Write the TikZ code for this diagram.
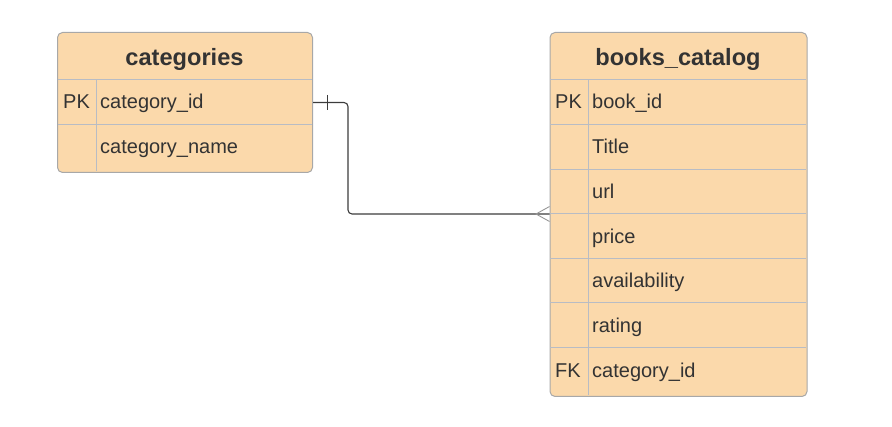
\documentclass[tikz,border=0pt]{standalone}
\usepackage{fontspec}
\setmainfont{Liberation Sans}
\definecolor{tfill}{RGB}{251,217,171}
\definecolor{tborder}{RGB}{168,168,168}
\definecolor{tline}{RGB}{184,188,196}
\definecolor{ttext}{RGB}{51,51,51}
\definecolor{conncol}{RGB}{60,60,60}
\definecolor{crowcol}{RGB}{150,150,150}
\tikzset{
  tablebox/.style={draw=tborder, fill=tfill, rounded corners=5pt, line width=1pt, inner sep=0pt, anchor=north west},
  headtxt/.style={font=\bfseries\fontsize{23.6}{27}\selectfont, text=ttext, inner sep=0pt, anchor=base},
  rowtxt/.style={font=\fontsize{20}{24}\selectfont, text=ttext, inner sep=0pt, anchor=base west},
  sep/.style={draw=tline, line width=1pt},
  conn/.style={draw=conncol, line width=1.1pt, rounded corners=4pt},
  crow/.style={draw=crowcol, line width=0.9pt}
}
\begin{document}
\begin{tikzpicture}[x=1pt,y=-1pt]
\useasboundingbox (0,0) rectangle (892,427);
% categories table
\node[tablebox, minimum width=255pt, minimum height=140pt] (cat) at (57,32) {};
\draw[sep] (57.5,79.5) -- (311.5,79.5);
\draw[sep] (57.5,124.5) -- (311.5,124.5);
\draw[sep] (96.5,79.5) -- (96.5,171.5);
\node[headtxt] (cattitle) at (184.5,65.5) {categories};
\node[rowtxt] (catpk) at (63,108.5) {PK};
\node[rowtxt] (catid) at (100,108.5) {category\_id};
\node[rowtxt] (catname) at (100,153.5) {category\_name};
% books_catalog table
\node[tablebox, minimum width=257pt, minimum height=364pt] (bk) at (549.5,32) {};
\foreach \yy in {79.5,124.5,169.5,214,258.5,303,348} {
  \draw[sep] (550,\yy) -- (805.5,\yy);
}
\draw[sep] (588.5,79.5) -- (588.5,395.5);
\node[headtxt] (bktitle) at (678,65.5) {books\_catalog};
\node[rowtxt] (bkpk) at (555,108.5) {PK};
\node[rowtxt] (bkid) at (592,108.5) {book\_id};
\node[rowtxt] (bktitlef) at (592,153.5) {Title};
\node[rowtxt] (bkurl) at (592,198.5) {url};
\node[rowtxt] (bkprice) at (592,243.5) {price};
\node[rowtxt] (bkavail) at (592,287.5) {availability};
\node[rowtxt] (bkrating) at (592,332.5) {rating};
\node[rowtxt] (bkfk) at (555,377.5) {FK};
\node[rowtxt] (bkcid) at (592,377.5) {category\_id};
% connector
\coordinate (src) at (cat.east |- 0,102.5);
\coordinate (dst) at (bk.west |- 0,214);
\draw[conn] (src) -- (348,102.5) -- (348,214) -- (dst);
% one bar at source
\draw[draw=conncol, line width=0.9pt] ([xshift=14.5pt]src |- 0,95) -- ([xshift=14.5pt]src |- 0,110);
% crow's foot at destination
\coordinate (crowtip) at ([xshift=-13.5pt]dst);
\draw[crow] (dst |- 0,206.5) -- (crowtip) -- (dst |- 0,221.5);
\end{tikzpicture}
\end{document}
